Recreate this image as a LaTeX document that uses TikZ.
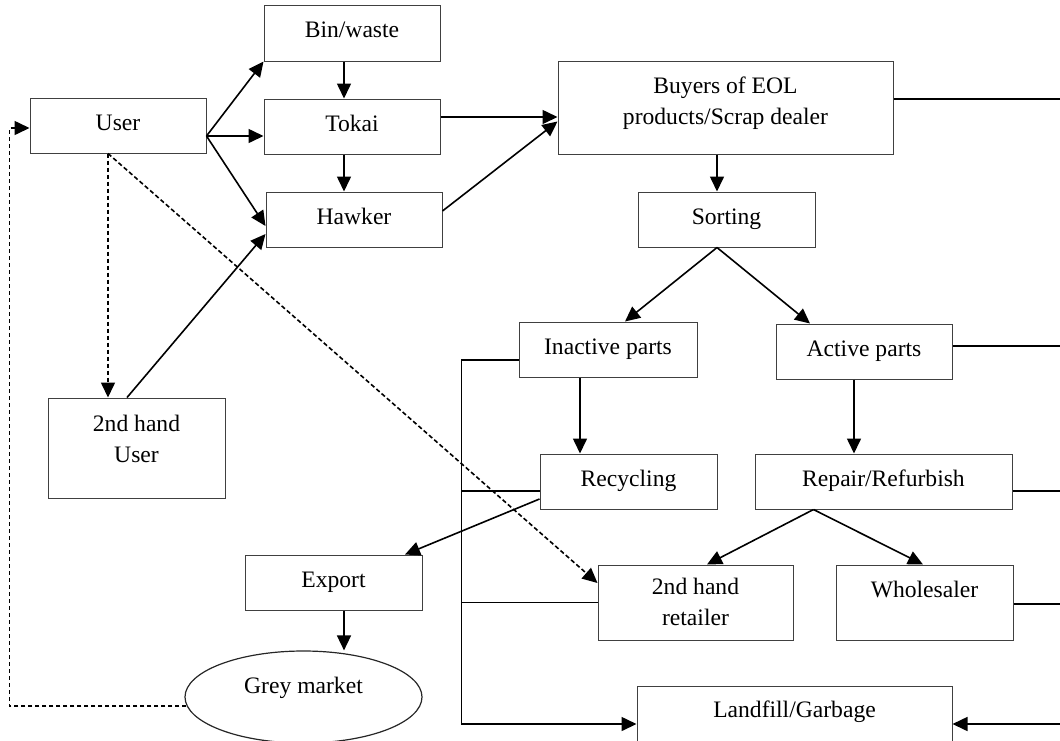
\documentclass[tikz,border=0pt]{standalone}
\usepackage{fontspec}
\setmainfont{Liberation Serif}
\usetikzlibrary{arrows.meta,shapes.geometric,calc}
\begin{document}
\begin{tikzpicture}[x=0.5pt,y=-0.5pt,
 box/.style={draw=black!75,line width=0.5pt,inner sep=0pt,rectangle},
 txt/.style={anchor=base,inner sep=0pt,align=center,font=\fontsize{11.8}{15.5}\selectfont},
 conn/.style={line width=0.8pt},
 arr/.style={conn,-{Triangle[length=7.5pt,width=7pt]}},
 dsh/.style={conn,dash pattern=on 2.2pt off 1.3pt},
 darr/.style={dsh,-{Triangle[length=7.5pt,width=7pt]}}]
\useasboundingbox (0,0) rectangle (1060,740);

% boxes
\node[box,minimum width=88pt,minimum height=28pt] (bin) at (352,33) {};
\node[box,minimum width=88pt,minimum height=27.5pt] (user) at (118,125.5) {};
\node[box,minimum width=88pt,minimum height=27.5pt] (tokai) at (352,126.5) {};
\node[box,minimum width=88pt,minimum height=27.5pt] (hawker) at (354,219.5) {};
\node[box,minimum width=167.5pt,minimum height=46.5pt] (buyers) at (725.5,107.5) {};
\node[box,minimum width=88.5pt,minimum height=27.5pt] (sorting) at (726.5,219.5) {};
\node[box,minimum width=89pt,minimum height=27.5pt] (inactive) at (608,349.5) {};
\node[box,minimum width=88pt,minimum height=27.5pt] (active) at (864,351.5) {};
\node[box,minimum width=88.5pt,minimum height=27.5pt] (recycling) at (628.5,481.5) {};
\node[box,minimum width=128.5pt,minimum height=27.5pt] (repair) at (883.5,481.5) {};
\node[box,minimum width=97.5pt,minimum height=37.5pt] (retailer) at (695.5,602.5) {};
\node[box,minimum width=88.5pt,minimum height=37.5pt] (wholesaler) at (924.5,602.5) {};
\node[box,minimum width=157.5pt,minimum height=38pt] (landfill) at (794.5,724) {};
\node[box,minimum width=88.5pt,minimum height=50pt] (user2) at (136.5,448) {};
\node[box,minimum width=88.5pt,minimum height=27.5pt] (export) at (333.5,582.5) {};
\node[draw=black!85,line width=0.6pt,ellipse,inner sep=0pt,minimum width=118.5pt,minimum height=46pt] (grey) at (303.5,697) {};

% texts (anchor=base: baseline of the last line)
\node[txt] (tbin) at (352,37) {Bin/waste};
\node[txt] (tuser) at (118,130) {User};
\node[txt] (ttokai) at (352,131) {Tokai};
\node[txt] (thawker) at (354,224) {Hawker};
\node[txt] (tbuyers) at (725.5,124) {Buyers of EOL\\products/Scrap dealer};
\node[txt] (tsorting) at (726.5,224) {Sorting};
\node[txt] (tinactive) at (608,354) {Inactive parts};
\node[txt] (tactive) at (864,356) {Active parts};
\node[txt] (trecycling) at (628.5,486) {Recycling};
\node[txt] (trepair) at (883.5,486) {Repair/Refurbish};
\node[txt] (tretailer) at (695.5,625) {2nd hand\\retailer};
\node[txt] (twholesaler) at (924.5,597) {Wholesaler};
\node[txt] (tlandfill) at (794.5,717) {Landfill/Garbage};
\node[txt] (tuser2) at (136.5,462) {2nd hand\\User};
\node[txt] (texport) at (333.5,587) {Export};
\node[txt] (tgrey) at (303.5,693) {Grey market};

% coordinates
\coordinate (uo) at ($(user.east)+(0,10.5)$);
\coordinate (bb) at ($(bin.south)+(-8,0)$);
\coordinate (tb) at ($(tokai.south)+(-8,0)$);
\coordinate (te) at ($(tokai.east)+(0,-9.5)$);
\coordinate (bs) at ($(buyers.south)+(-8.5,0)$);
\coordinate (ib) at ($(inactive.south)+(-28,0)$);
\coordinate (ab) at ($(active.south)+(-10,0)$);
\coordinate (eb) at ($(export.south)+(10.5,0)$);
\coordinate (ub) at ($(user.south)+(-10,0)$);
\coordinate (gw) at ($(grey.west)+(2,9)$);
\coordinate (lb) at ($(landfill.west)+(-175,0)$);
\coordinate (rb) at ($(landfill.east)+(108,0)$);
\coordinate (iw) at ($(inactive.west)+(0,10.5)$);
\coordinate (rw) at ($(recycling.west)+(0,9.5)$);
\coordinate (be) at ($(buyers.east)+(0,-8.5)$);
\coordinate (ae) at ($(active.east)+(0,-5.5)$);
\coordinate (re) at ($(repair.east)+(0,9.5)$);
\coordinate (we) at ($(wholesaler.east)+(0,1.5)$);

% connectors: collection
\draw[arr] (uo) -- (bin.south west);
\draw[arr] (uo) -- (uo -| tokai.west);
\draw[arr] (uo) -- ($(hawker.west)+(0,6.5)$);
\draw[arr] ($(user2.north)+(-9.5,0)$) -- ($(hawker.west)+(0,14.5)$);
\draw[arr] (bb) -- (bb |- tokai.north);
\draw[arr] (tb) -- (tb |- hawker.north);
\draw[arr] (te) -- (te -| buyers.west);
\draw[arr] ($(hawker.east)+(0,-8.5)$) -- ($(buyers.west)+(0,14)$);
\draw[arr] (bs) -- (bs |- sorting.north);
\draw[arr] ($(sorting.south)+(-9.5,0)$) -- ($(inactive.north)+(17,0)$);
\draw[arr] ($(sorting.south)+(-9.5,0)$) -- ($(active.north)+(-54,0)$);
\draw[arr] (ib) -- (ib |- recycling.north);
\draw[arr] (ab) -- (ab |- repair.north);
\draw[arr] ($(repair.south)+(-70,0)$) -- ($(retailer.north)+(11.5,0)$);
\draw[arr] ($(repair.south)+(-70,0)$) -- ($(wholesaler.north)+(-1.5,0)$);
\draw[arr] ($(recycling.west)+(0,17.5)$) -- ($(export.north)+(71.5,0)$);
\draw[arr] (eb) -- (eb |- grey.north);

% dashed
\draw[darr] (ub) -- (ub |- user2.north);
\draw[darr] (ub) -- ($(retailer.west)+(0,-19.5)$);
\draw[darr] (gw) -| ($(user.west)+(-20,2.5)$) -- ($(user.west)+(0,2.5)$);

% left bus
\draw[arr] (iw) -| (lb) -- (landfill.west);
\draw[conn] (rw) -- (rw -| lb);
\draw[conn] (retailer.west) -- (retailer.west -| lb);

% right bus
\draw[conn] (be) -- (be -| rb);
\draw[conn] (ae) -- (ae -| rb);
\draw[conn] (re) -- (re -| rb);
\draw[conn] (we) -- (we -| rb);
\draw[arr] (rb) -- (landfill.east);
\end{tikzpicture}
\end{document}
